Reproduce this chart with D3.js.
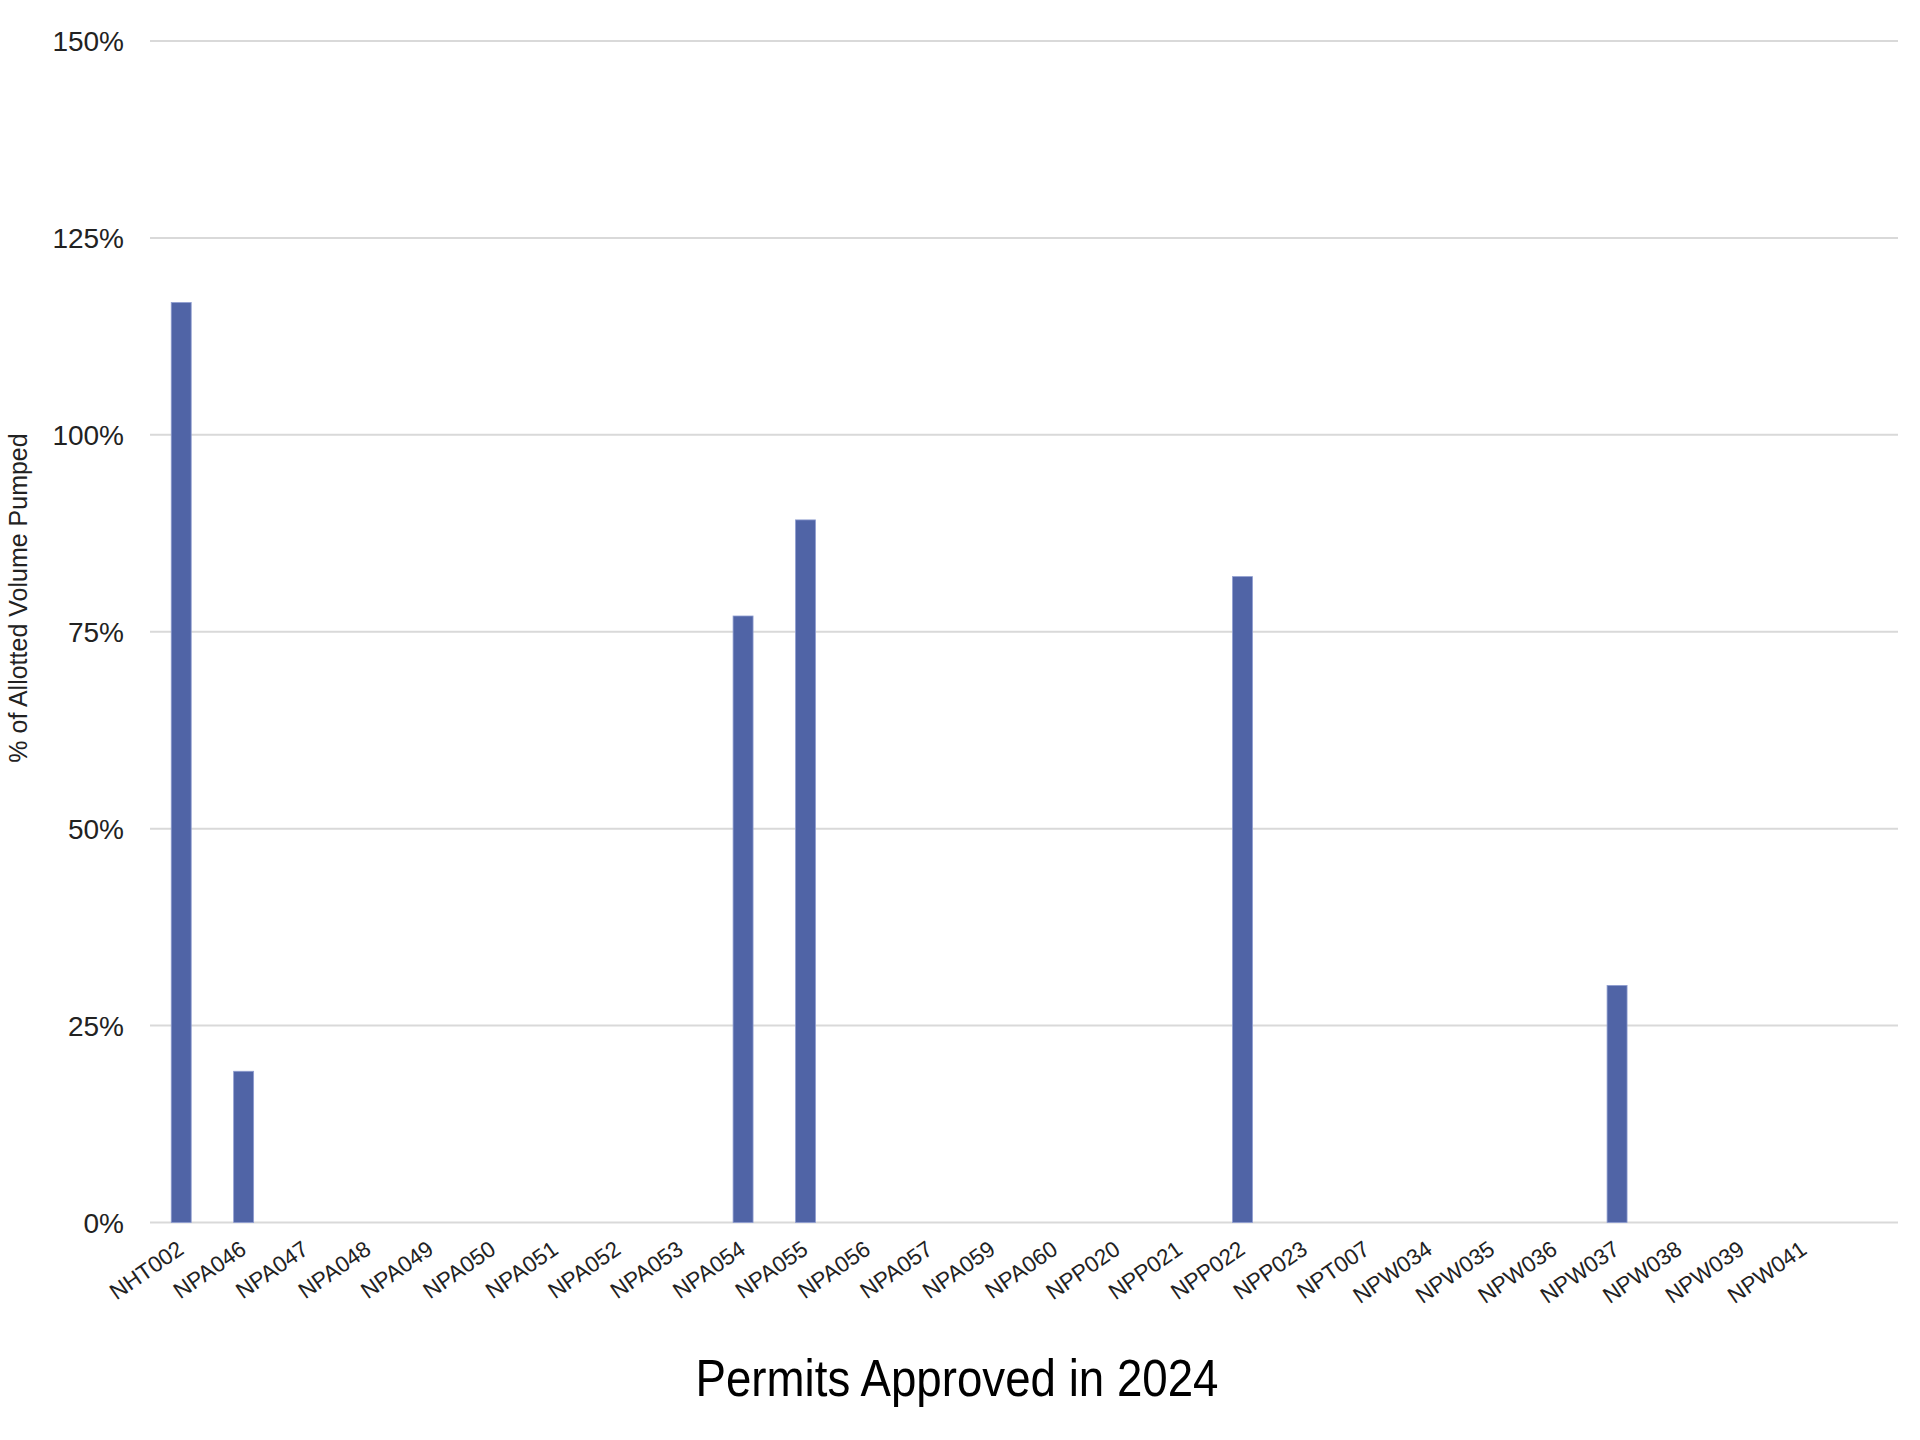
<!DOCTYPE html>
<html>
<head>
<meta charset="utf-8">
<script src="https://cdn.jsdelivr.net/npm/d3@7"></script>
<style>
  body { margin: 0; background: #fff; }
  svg text { font-family: "Liberation Sans", Arial, sans-serif; fill: #222; }
</style>
</head>
<body>
<div id="chart"></div>
<script>
// permits on the x axis
const permits = ["NHT002", "NPA046", "NPA047", "NPA048", "NPA049", "NPA050", "NPA051",
  "NPA052", "NPA053", "NPA054", "NPA055", "NPA056", "NPA057", "NPA059", "NPA060",
  "NPP020", "NPP021", "NPP022", "NPP023", "NPT007", "NPW034", "NPW035", "NPW036",
  "NPW037", "NPW038", "NPW039", "NPW041"];
// % of allotted volume pumped (0 = nothing shown)
const pumpedPct = [116.8, 19.2, 0, 0, 0, 0, 0,
  0, 0, 77.0, 89.2, 0, 0, 0, 0,
  0, 0, 82.0, 0, 0, 0, 0, 0,
  30.1, 0, 0, 0];
const yTicks = [0, 25, 50, 75, 100, 125, 150];

const width = 1920, height = 1440;
const margin = { top: 41, right: 22, bottom: 217.5, left: 150 };
const plotRight = width - margin.right;

const svg = d3.select("#chart").append("svg")
  .attr("width", width)
  .attr("height", height);

const y = d3.scaleLinear()
  .domain([0, 150])
  .range([height - margin.bottom, margin.top]);

// last slot on the right is left empty like in the original
const x = d3.scaleBand()
  .domain(permits)
  .range([margin.left, plotRight - (plotRight - margin.left) / 28])
  .paddingInner(0.68)
  .paddingOuter(0.34);

// gridlines
svg.append("g")
  .selectAll("line")
  .data(yTicks)
  .join("line")
  .attr("x1", margin.left)
  .attr("x2", plotRight)
  .attr("y1", d => y(d))
  .attr("y2", d => y(d))
  .attr("stroke", "#d9d9d9")
  .attr("stroke-width", 2);

// y tick labels
svg.append("g")
  .selectAll("text")
  .data(yTicks)
  .join("text")
  .attr("x", margin.left - 26)
  .attr("y", d => y(d))
  .attr("dy", "0.36em")
  .attr("text-anchor", "end")
  .style("font-size", "28px")
  .text(d => d + "%");

// bars
svg.append("g")
  .selectAll("rect")
  .data(permits.map((p, i) => ({ key: p, value: pumpedPct[i] })).filter(d => d.value > 0))
  .join("rect")
  .attr("x", d => x(d.key))
  .attr("width", x.bandwidth())
  .attr("y", d => y(d.value))
  .attr("height", d => y(0) - y(d.value))
  .attr("fill", "#5064a6")
  .attr("stroke", "#8f9dd0")
  .attr("stroke-width", 0.8);

// x tick labels, rotated
svg.append("g")
  .selectAll("text")
  .data(permits)
  .join("text")
  .attr("transform", d => `translate(${x(d) + x.bandwidth() / 2 + 4}, ${y(0) + 30}) rotate(-35)`)
  .attr("text-anchor", "end")
  .style("font-size", "22.5px")
  .text(d => d);

// axis titles
svg.append("text")
  .attr("transform", `translate(27, 598) rotate(-90)`)
  .attr("text-anchor", "middle")
  .style("font-size", "25px")
  .text("% of Allotted Volume Pumped");

// condensed look of the original title
svg.append("text")
  .attr("x", 957)
  .attr("y", 1396)
  .attr("text-anchor", "middle")
  .attr("textLength", 523)
  .attr("lengthAdjust", "spacingAndGlyphs")
  .style("font-size", "52px")
  .style("fill", "#000")
  .text("Permits Approved in 2024");
</script>
</body>
</html>
